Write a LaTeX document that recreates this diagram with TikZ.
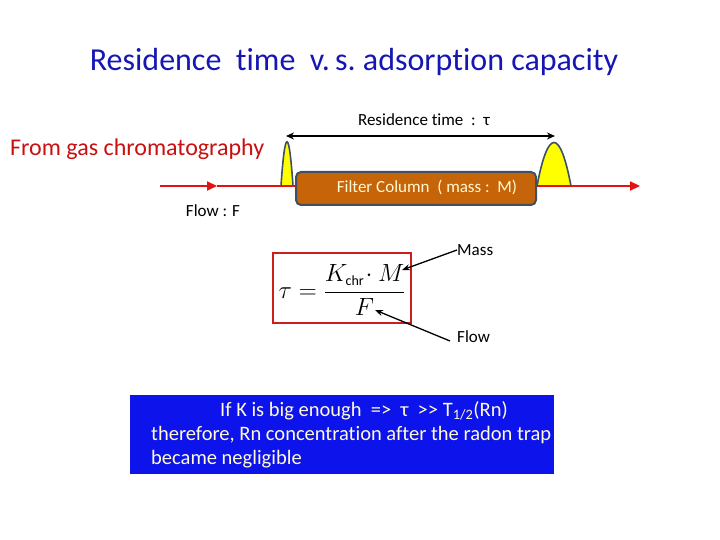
\documentclass[tikz,border=0pt]{standalone}
\usepackage{fontspec}
\setmainfont{Carlito}[Ligatures={NoCommon}]
\usetikzlibrary{arrows.meta}
\definecolor{titleblue}{RGB}{22,22,180}
\definecolor{darkred}{RGB}{200,16,16}
\definecolor{flowred}{RGB}{228,18,18}
\definecolor{colbrown}{RGB}{198,100,10}
\definecolor{slate}{RGB}{62,80,102}
\definecolor{peakyellow}{RGB}{255,255,0}
\definecolor{boxblue}{RGB}{12,20,235}
\definecolor{cream}{RGB}{255,250,210}
\definecolor{framered}{RGB}{205,30,30}
\begin{document}
\begin{tikzpicture}[x=1pt,y=-1pt,
  lbl/.style={inner sep=0pt, font=\fontsize{17}{20}\selectfont},
  flowline/.style={draw=flowred, line width=2.2pt},
  peak/.style={fill=peakyellow, draw=slate, line width=1.6pt},
  pointer/.style={draw=black, line width=1.3pt, -{Stealth[length=8pt,width=6pt]}},
  bluetext/.style={inner sep=0pt, anchor=base west, text=cream, font=\fontsize{20.5}{24}\selectfont}]
\useasboundingbox (0,0) rectangle (720,540);

% title
\node[inner sep=0pt, text=titleblue, font=\fontsize{32}{36}\selectfont] (title) at (354,62) {Residence\ \ time\ \ v.\,s.\ adsorption capacity};

\node[inner sep=0pt, anchor=west, text=darkred, font=\fontsize{24}{28}\selectfont] (gc) at (10,149) {From gas chromatography};

% flow line
\coordinate (fstart) at (160,186);
\coordinate (fmid) at (217,186);
\coordinate (fend) at (300,186);
\coordinate (rstart) at (532,186);
\coordinate (rend) at (640,186);
\draw[flowline, -{Triangle[length=10pt,width=9pt]}] (fstart) -- (fmid);
\draw[flowline, -{Triangle[length=10pt,width=9pt]}] (rstart) -- (rend);

% peaks
\draw[peak] (281,186) .. controls (285,127) and (289,127) .. (293,186);
\draw[peak] (537,186) .. controls (548,128) and (560,128) .. (571,186);
\draw[flowline] (fmid) -- (fend);
\draw[flowline] (rstart) -- (600,186);

% column
\node[draw=slate, line width=2pt, fill=colbrown, rounded corners=5pt, minimum width=240pt, minimum height=33pt, inner sep=0pt] (col) at (416,188.5) {};
\node[lbl, text=cream] (coltext) at (427,187) {Filter Column\ \ ( mass :\ \ M)};

\node[lbl] (flowF) at (213,211) {Flow : F};

% residence time arrow
\coordinate (rtl) at (286,136);
\coordinate (rtr) at (555,136);
\draw[line width=1.6pt, {Stealth[length=8pt,width=7pt]}-{Stealth[length=8pt,width=7pt]}] (rtl) -- (rtr);
\node[lbl] (rtlabel) at (424,120) {Residence time\ \ :\ \ τ};

% formula
\node[draw=framered, line width=1.2pt, minimum width=138pt, minimum height=70pt, inner sep=0pt] (fbox) at (342,288) {};
\node[inner sep=0pt, font=\fontsize{24}{28}\selectfont] (formula) at (342,290) {$\displaystyle \tau = \frac{K_{\mbox{\fontsize{14}{16}\selectfont chr}}\!\cdot M}{F}$};
\coordinate (mtip) at (402,270);
\coordinate (ftip) at (375,310);
\node[lbl, anchor=west] (mass) at (457,250) {Mass};
\node[lbl, anchor=west] (flow) at (457,337) {Flow};
\draw[pointer] (mass.west) -- (mtip);
\draw[pointer] (450,341) -- (ftip);

% blue box
\node[fill=boxblue, minimum width=424pt, minimum height=79pt, inner sep=0pt] (bbox) at (342,434.5) {};
\node[bluetext] (l1) at (220,416) {If K is big enough\ \ =>\ \ τ\ \ >\kern0pt> T\textsubscript{1/2}(Rn)};
\node[bluetext] (l2) at (151,440) {therefore, Rn concentration after the radon trap};
\node[bluetext] (l3) at (151,464) {became negligible};
\end{tikzpicture}
\end{document}
